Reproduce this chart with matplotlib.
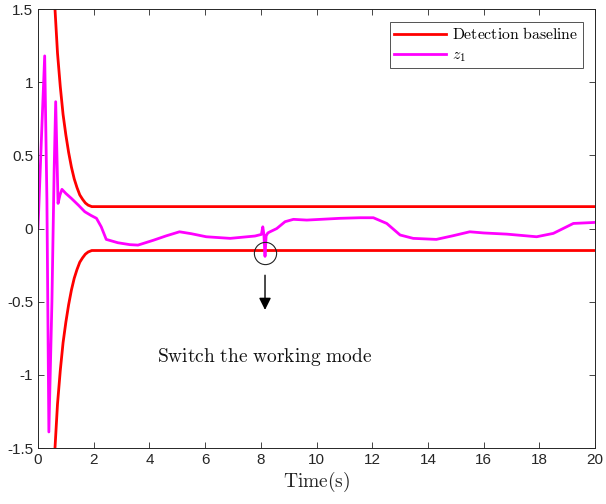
import numpy as np
import matplotlib
matplotlib.use("Agg")
import matplotlib.pyplot as plt

# Detection baseline (upper branch; lower branch is its mirror)
t_base = [0.50, 0.61, 0.70, 0.80, 0.90, 1.00, 1.10, 1.20, 1.30, 1.40, 1.50, 1.60, 1.70, 1.80, 1.93, 20.0]
y_base = [2.00, 1.50, 1.20, 0.97, 0.78, 0.64, 0.52, 0.42, 0.34, 0.28, 0.23, 0.20, 0.175, 0.16, 0.15, 0.15]

# z1 signal
t_z1 = [0.00, 0.12, 0.24, 0.32, 0.39, 0.50, 0.58, 0.635, 0.72, 0.79, 0.86, 1.00, 1.20, 1.45, 1.68,
        1.90, 2.10, 2.27, 2.45, 2.87, 3.30, 3.59, 4.14, 4.60, 5.08, 5.50, 6.04, 6.90, 7.79,
        8.02, 8.07, 8.11, 8.15, 8.19, 8.25, 8.33, 8.57, 8.87, 9.17, 9.65, 10.84, 11.56,
        12.04, 12.52, 13.00, 13.47, 14.30, 14.90, 15.50, 16.00, 16.83, 17.90, 18.50, 19.22, 20.00]
y_z1 = [0.00, 0.60, 1.18, 0.20, -1.39, -0.50, 0.40, 0.867, 0.172, 0.23, 0.268, 0.24, 0.206, 0.16, 0.115,
        0.09, 0.07, 0.012, -0.074, -0.097, -0.11, -0.113, -0.08, -0.05, -0.022, -0.035, -0.056, -0.067, -0.051,
        -0.04, 0.012, -0.04, -0.19, -0.05, -0.03, -0.022, 0.00, 0.047, 0.063, 0.058, 0.07, 0.074,
        0.074, 0.035, -0.044, -0.067, -0.074, -0.049, -0.022, -0.03, -0.038, -0.056, -0.033, 0.035, 0.042]

plt.rcParams['mathtext.fontset'] = 'cm'
plt.rcParams['font.family'] = ['Liberation Sans', 'DejaVu Sans']

fig = plt.figure(figsize=(6.06, 5.04), dpi=100)
ax = fig.add_axes([0.0627, 0.111, 0.9193, 0.871])

t_b = np.array(t_base)
y_b = np.array(y_base)
ax.plot(t_b, y_b, color='#ff0000', linewidth=2, label='Detection baseline')
ax.plot(t_b, -y_b, color='#ff0000', linewidth=2)
ax.plot(t_z1, y_z1, color='#ff00ff', linewidth=2, label=r'$z_1$')

# annotation: circle + arrow + text
ax.plot([8.15], [-0.17], marker='o', markersize=16, markerfacecolor='none',
        markeredgecolor='#222222', markeredgewidth=0.8)
ax.annotate('', xy=(8.15, -0.575), xytext=(8.15, -0.30),
            arrowprops=dict(arrowstyle='-|>', color='black', lw=1, mutation_scale=18))
ax.text(8.15, -0.88, r'$\mathrm{Switch\ the\ working\ mode}$', ha='center', va='center',
        fontsize=14, color='#111111')

ax.set_xlim(0, 20)
ax.set_ylim(-1.5, 1.5)
ax.set_xticks(np.arange(0, 21, 2))
ax.set_yticks([-1.5, -1, -0.5, 0, 0.5, 1, 1.5])
ax.set_yticklabels(['-1.5', '-1', '-0.5', '0', '0.5', '1', '1.5'])
ax.tick_params(direction='in', top=True, right=True, labelsize=11, colors='#262626',
               length=4, width=0.6)
for s in ax.spines.values():
    s.set_color('#262626')
    s.set_linewidth(0.7)

ax.set_xlabel(r'$\mathrm{Time(s)}$', fontsize=14, color='#262626', labelpad=2)

leg = ax.legend(loc='upper right', fontsize=11.3, frameon=True, fancybox=False,
                edgecolor='#262626', borderaxespad=0.8, handlelength=3.3,
                handletextpad=0.35, borderpad=0.3, labelspacing=0.3)
leg.get_frame().set_linewidth(0.7)
for txt in leg.get_texts():
    if txt.get_text() == 'Detection baseline':
        txt.set_text(r'$\mathrm{Detection\ baseline}$')

fig.savefig('out.png', dpi=100)
